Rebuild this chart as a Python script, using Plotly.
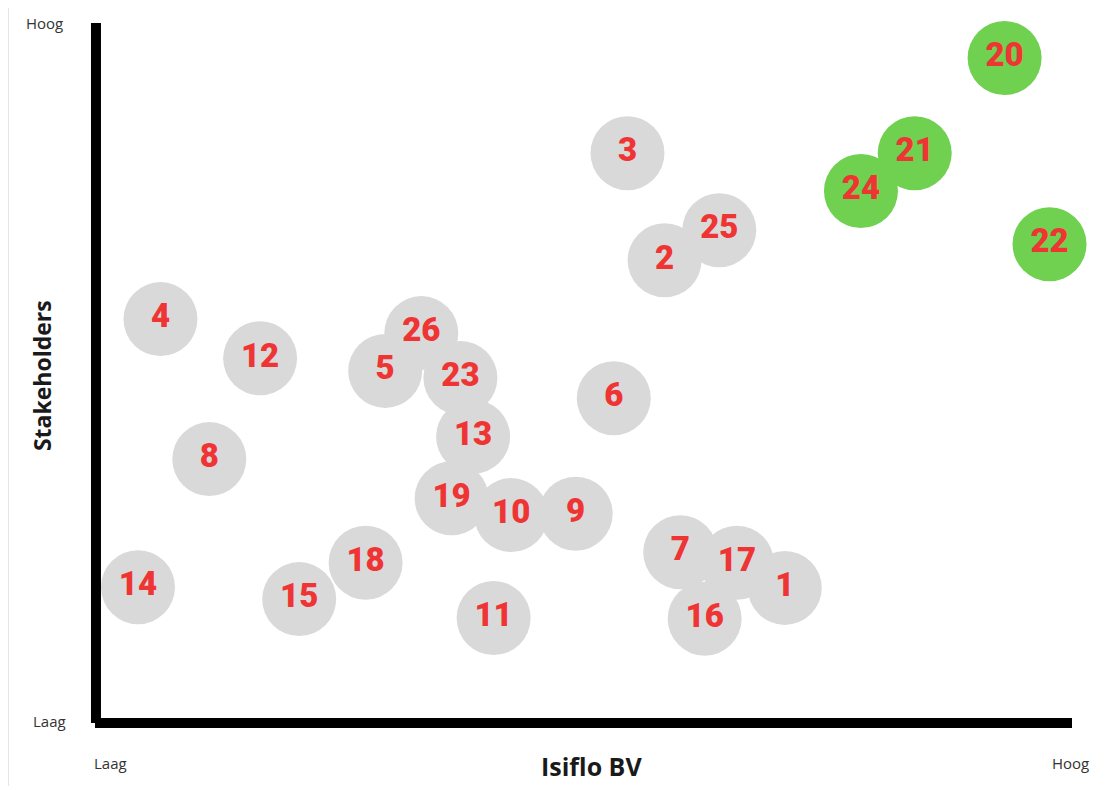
import plotly.graph_objects as go

# Stakeholder ids and positions (0-100 scale on both axes)
gray_ids = ["3", "25", "2", "4", "12", "26", "5", "23", "6", "13", "8", "19", "10", "9",
            "7", "17", "1", "16", "14", "15", "18", "11"]
gray_x = [54.5, 63.9, 58.3, 6.7, 16.9, 33.4, 29.7, 37.4, 53.1, 38.7, 11.7, 36.5, 42.6, 49.2,
          59.9, 65.7, 70.6, 62.4, 4.4, 20.9, 27.7, 40.8]
gray_y = [81.4, 70.4, 66.1, 57.7, 52.1, 55.7, 50.3, 49.3, 46.4, 40.9, 37.7, 32.1, 29.7, 29.9,
          24.4, 22.9, 19.3, 14.9, 19.4, 17.7, 22.9, 15.0]

green_ids = ["20", "21", "24", "22"]
green_x = [93.1, 83.9, 78.4, 97.7]
green_y = [95.0, 81.4, 76.0, 68.4]

x_labels = ["Laag", "Hoog"]
y_labels = ["Laag", "Hoog"]
x_title = "Isiflo BV"
y_title = "Stakeholders"

num_font = dict(family="Roboto Black, Roboto, Arial Black, sans-serif", size=33,
                color="#ef3434", weight=900)

fig = go.Figure()
fig.add_trace(go.Scatter(
    x=gray_x, y=gray_y, text=gray_ids, mode="markers+text",
    marker=dict(size=74, color="#d9d9d9", line=dict(width=0)),
    textfont=num_font, textposition="middle center", cliponaxis=False,
    hoverinfo="skip", showlegend=False))
fig.add_trace(go.Scatter(
    x=green_x, y=green_y, text=green_ids, mode="markers+text",
    marker=dict(size=74, color="#6fd14f", line=dict(width=0)),
    textfont=num_font, textposition="middle center", cliponaxis=False,
    hoverinfo="skip", showlegend=False))

label_font = dict(family="Open Sans, sans-serif", size=15, color="#333333")
anns = [
    dict(x=-0.0512, y=1.0, text=y_labels[1]),
    dict(x=-0.0462, y=0.003, text=y_labels[0]),
    dict(x=0.0154, y=-0.057, text=x_labels[0]),
    dict(x=0.998, y=-0.057, text=x_labels[1]),
]
for a in anns:
    fig.add_annotation(xref="paper", yref="paper", showarrow=False,
                       xanchor="center", yanchor="middle", font=label_font, **a)
fig.add_annotation(xref="paper", yref="paper", x=0.5087, y=-0.0614, text=x_title,
                   showarrow=False, xanchor="center", yanchor="middle",
                   font=dict(family="Open Sans, sans-serif", size=25, color="#1a1a1a", weight=700))
fig.add_annotation(xref="paper", yref="paper", x=-0.0542, y=0.4957, text=y_title,
                   showarrow=False, xanchor="center", yanchor="middle", textangle=-90,
                   font=dict(family="Open Sans, sans-serif", size=23, color="#1a1a1a", weight=700))

# axis lines
fig.add_shape(type="line", xref="paper", yref="paper", x0=0.001, y0=0, x1=0.001, y1=1,
              line=dict(color="black", width=10), layer="below")
fig.add_shape(type="line", xref="paper", yref="paper", x0=0, y0=0, x1=1, y1=0,
              line=dict(color="black", width=10), layer="below")
# faint left border
fig.add_shape(type="line", xref="paper", yref="paper", x0=-0.0885, y0=-0.09, x1=-0.0885, y1=1.03,
              line=dict(color="#e6e6e6", width=1), layer="below")

fig.update_layout(
    width=1116, height=790,
    margin=dict(l=87, r=52, t=15, b=75),
    paper_bgcolor="white", plot_bgcolor="white",
    xaxis=dict(range=[0, 100], visible=False, fixedrange=True),
    yaxis=dict(range=[0, 100], visible=False, fixedrange=True),
)
fig.write_html("out.html")
